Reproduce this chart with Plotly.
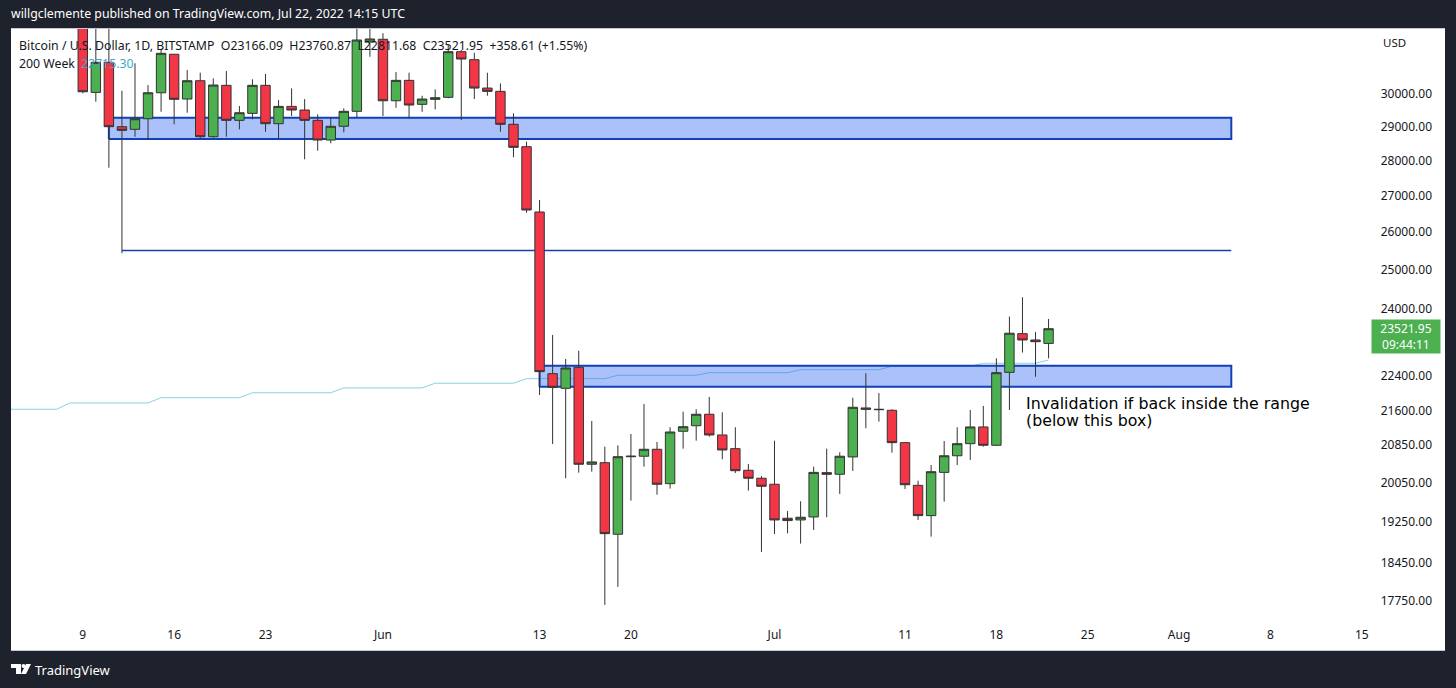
#%%
# BTC daily chart with range boxes, TradingView style
import numpy as np
import pandas as pd
import plotly.graph_objects as go

days = pd.date_range('2022-05-09', periods=75).strftime('%Y-%m-%d').tolist()

opens = [33900, 30050, 31000, 29000, 28921, 29240, 30038, 31260, 29843, 30415, 28700, 30270, 29192, 29403, 30270,
         29090, 29617, 29505, 29192, 28602, 29012, 29465, 31660,
         31750, 29790, 30427, 29680, 29834, 29896, 31344, 31085, 30185, 30082, 29072, 28405, 26546, 22451, 22113,
         22600, 20439, 20473, 19009, 20600, 20610, 20759, 20032, 21150, 21272, 21526, 21069, 20772, 20312, 20145,
         20020, 19327, 19293, 19353, 20262, 20228, 20595, 21667, 21638, 21615, 20902, 19997, 19379, 20268, 20620,
         20880, 21245, 20845, 22482, 23402, 23249, 23166.09]
closes = [30069, 31000, 29000, 28890, 29240, 30038, 31292, 29834, 30415, 28700, 30280, 29192, 29423, 30270, 29090,
          29617, 29505, 29192, 28602, 29012, 29465, 31726, 31760,
          29790, 30427, 29658, 29843, 29883, 31344, 31107, 30185, 30082, 29072, 28386, 26601, 22498, 22136, 22584,
          20439, 20488, 19021, 20600, 20610, 20759, 20020, 21134, 21250, 21526, 21069, 20744, 20303, 20145, 19978,
          19293, 19280, 19347, 20268, 20228, 20610, 21682, 21638, 21630, 20902, 20010, 19379, 20282, 20620, 20880,
          21245, 20845, 22474, 23412, 23249, 23208, 23521.95]
highs = [34200, 32600, 32200, 30100, 30968, 30280, 31399, 31270, 30754, 30668, 30490, 30722, 29627, 30459, 30627,
         29812, 30175, 29843, 29375, 29283, 29557, 32300, 32400,
         31950, 30690, 30668, 29945, 30144, 31560, 31399, 31310, 30668, 30330, 29403, 28552, 26878, 23370, 22795,
         22992, 21377, 20815, 20845, 21090, 21757, 20917, 21238, 21584, 21638, 21915, 21570, 21238, 20445, 20193,
         20945, 19474, 19670, 20388, 20772, 20695, 21899, 22460, 22006, 21638, 20910, 20095, 20424, 20938, 21238,
         21622, 21712, 22811, 23820, 24300, 23440, 23760.87]
lows = [30020, 29760, 27793, 25435, 28700, 28602, 29453, 29072, 29423, 28652, 28670, 28700, 28921, 29222, 28849,
        28632, 29323, 28036, 28287, 28505, 28831, 29283, 31180,
        29323, 29575, 29252, 29453, 29526, 29864, 29201, 29843, 29945, 28849, 28095, 26527, 21960, 20874, 20145,
        20262, 20282, 17666, 17999, 19683, 20388, 19805, 19929, 20772, 20945, 21032, 20545, 20255, 19888, 18664,
        19015, 19028, 18825, 19094, 19347, 19820, 20297, 21215, 21361, 20686, 19922, 19293, 18962, 19663, 20424,
        20530, 20815, 20830, 21622, 22947, 22380, 22811.68]

# 200 week moving average, steps once a week
ma_days = ['2022-05-03', '2022-05-07', '2022-05-08', '2022-05-14', '2022-05-15', '2022-05-21', '2022-05-22',
           '2022-05-28', '2022-05-29', '2022-06-04', '2022-06-05', '2022-06-11', '2022-06-12', '2022-06-18',
           '2022-06-19', '2022-06-25', '2022-06-26', '2022-07-02', '2022-07-03', '2022-07-09', '2022-07-10',
           '2022-07-16', '2022-07-17', '2022-07-21', '2022-07-22']
ma_values = [21638, 21638, 21779, 21779, 21899, 21899, 22012, 22012, 22122, 22122, 22230, 22230, 22335, 22335,
             22414, 22414, 22474, 22474, 22544, 22544, 22622, 22622, 22694, 22694, 22772]

# Drawn levels
upper_box_days = ['2022-05-11', '2022-08-05', '2022-08-05', '2022-05-11', '2022-05-11']
upper_box_prices = [28631, 28631, 29271, 29271, 28631]
lower_box_days = ['2022-06-13', '2022-08-05', '2022-08-05', '2022-06-13', '2022-06-13']
lower_box_prices = [22150, 22150, 22638, 22638, 22150]
level_days = ['2022-05-12', '2022-08-05']
level_prices = [25507, 25507]

# Axis labels
x_tick_days = ['2022-05-09', '2022-05-16', '2022-05-23', '2022-06-01', '2022-06-13', '2022-06-20', '2022-07-01',
               '2022-07-11', '2022-07-18', '2022-07-25', '2022-08-01', '2022-08-08', '2022-08-15']
x_tick_labels = ['9', '16', '23', 'Jun', '13', '20', 'Jul', '11', '18', '25', 'Aug', '8', '15']
y_tick_values = [30000, 29000, 28000, 27000, 26000, 25000, 24000, 22400, 21600, 20850, 20050, 19250, 18450, 17750]
y_tick_labels = ['%.2f' % v for v in y_tick_values]

BG = '#1e222d'
RED = '#f23645'
GREEN = '#4caf50'
WICK = '#333333'
BOX_EDGE = '#1140b8'
BOX_FILL = 'rgba(42,100,242,0.4)'
MA_COLOR = '#8ccfe6'
FONT = 'Noto Sans'

# Plot area in page pixels
W, H = 1456, 688
L, R, T, B = 11, 11, 29, 38
X_RANGE = ['2022-05-03 12:00', '2022-08-21 09:00']
Y_RANGE = [np.log10(16860), np.log10(32090)]


def px(x):
    return (x - L) / (W - L - R)


def py(y):
    return (H - B - y) / (H - T - B)


fig = go.Figure()

# Moving average first so the boxes tint it
fig.add_trace(go.Scatter(x=ma_days, y=ma_values, mode='lines', line=dict(color=MA_COLOR, width=1)))

for box_x, box_y in [(upper_box_days, upper_box_prices), (lower_box_days, lower_box_prices)]:
    fig.add_trace(go.Scatter(x=box_x, y=box_y, mode='lines', fill='toself', fillcolor=BOX_FILL,
                             line=dict(color=BOX_EDGE, width=2)))

fig.add_trace(go.Scatter(x=level_days, y=level_prices, mode='lines', line=dict(color=BOX_EDGE, width=1.5)))

# Candles sit on overlaid axes so they stay on top of the lines
fig.add_trace(go.Candlestick(x=days, open=opens, high=highs, low=lows, close=closes,
                             xaxis='x2', yaxis='y2',
                             increasing=dict(fillcolor=GREEN, line=dict(color=WICK, width=1)),
                             decreasing=dict(fillcolor=RED, line=dict(color=WICK, width=1))))

fig.update_layout(
    width=W, height=H,
    margin=dict(l=L, r=R, t=T, b=B),
    paper_bgcolor=BG,
    plot_bgcolor='white',
    showlegend=False,
    boxgap=0.15,
    boxgroupgap=0.15,
    font=dict(family=FONT, size=12, color='#131722'),
    xaxis=dict(type='date', range=X_RANGE, tickvals=x_tick_days, ticktext=x_tick_labels,
               showgrid=False, zeroline=False, showline=True, linecolor='#c4c8d0', linewidth=1, mirror=True,
               ticks='', ticklabelposition='inside', ticklabelstandoff=8, tickangle=0,
               tickfont=dict(family=FONT, size=12, color='#131722')),
    yaxis=dict(type='log', range=Y_RANGE, side='right', tickvals=y_tick_values, ticktext=y_tick_labels,
               showgrid=False, zeroline=False, showline=False,
               ticks='', ticklabelposition='inside', ticklabelstandoff=10,
               tickfont=dict(family=FONT, size=12, color='#131722')),
    xaxis2=dict(type='date', range=X_RANGE, overlaying='x', visible=False, rangeslider=dict(visible=False)),
    yaxis2=dict(type='log', range=Y_RANGE, overlaying='y', visible=False),
)


def add_text(x, y, text, size=12, color='#131722', family=FONT, anchor='left', **kw):
    # annotations carry 2px of padding on the left
    fig.add_annotation(xref='paper', yref='paper', x=px(x - 2 if anchor == 'left' else x), y=py(y), text=text,
                       showarrow=False, xanchor=anchor, yanchor='middle', align=anchor,
                       font=dict(family=family, size=size, color=color), **kw)


gap = '\u00a0\u00a0'
add_text(11, 13, 'willgclemente published on TradingView.com, Jul 22, 2022 14:15 UTC', size=12.3, color='#ffffff')
add_text(19, 45, 'Bitcoin / U.S. Dollar, 1D, BITSTAMP' + gap + 'O23166.09' + gap + 'H23760.87' + gap + 'L22811.68' + gap
         + 'C23521.95' + gap + '+358.61 (+1.55%)', size=12.3)
add_text(19, 63, '200 Week', size=12.3)
add_text(81, 63, '22715.30', size=12.3, color='#3ea6d0')
add_text(1383, 43, 'USD', size=11.5)
add_text(1026, 403, 'Invalidation if back inside the range', size=15.8, family='DejaVu Sans', color='#000000')
add_text(1026, 420, '(below this box)', size=15.8, family='DejaVu Sans', color='#000000')
add_text(1406, 336, '23521.95<br>09:44:11', size=12, color='#ffffff', anchor='center',
         bgcolor=GREEN, width=68, height=33, borderpad=0)
add_text(35, 670, 'TradingView', size=13, color='#ffffff')

# TradingView logo in the footer
fig.add_shape(type='path', xref='paper', yref='paper', fillcolor='#ffffff', line_width=0,
              path='M %f %f L %f %f L %f %f L %f %f L %f %f L %f %f Z' % (
                  px(11), py(664), px(21), py(664), px(21), py(674),
                  px(16), py(674), px(16), py(668), px(11), py(668)))
fig.add_shape(type='circle', xref='paper', yref='paper', fillcolor='#ffffff', line_width=0,
              x0=px(21.5), x1=px(25.5), y0=py(668), y1=py(664))
fig.add_shape(type='path', xref='paper', yref='paper', fillcolor='#ffffff', line_width=0,
              path='M %f %f L %f %f L %f %f L %f %f Z' % (
                  px(26), py(664), px(31), py(664), px(26), py(674), px(21), py(674)))

fig.write_html('out.html', config={'displayModeBar': False},
               post_script="document.body.style.margin='0';document.body.style.overflow='hidden';")
